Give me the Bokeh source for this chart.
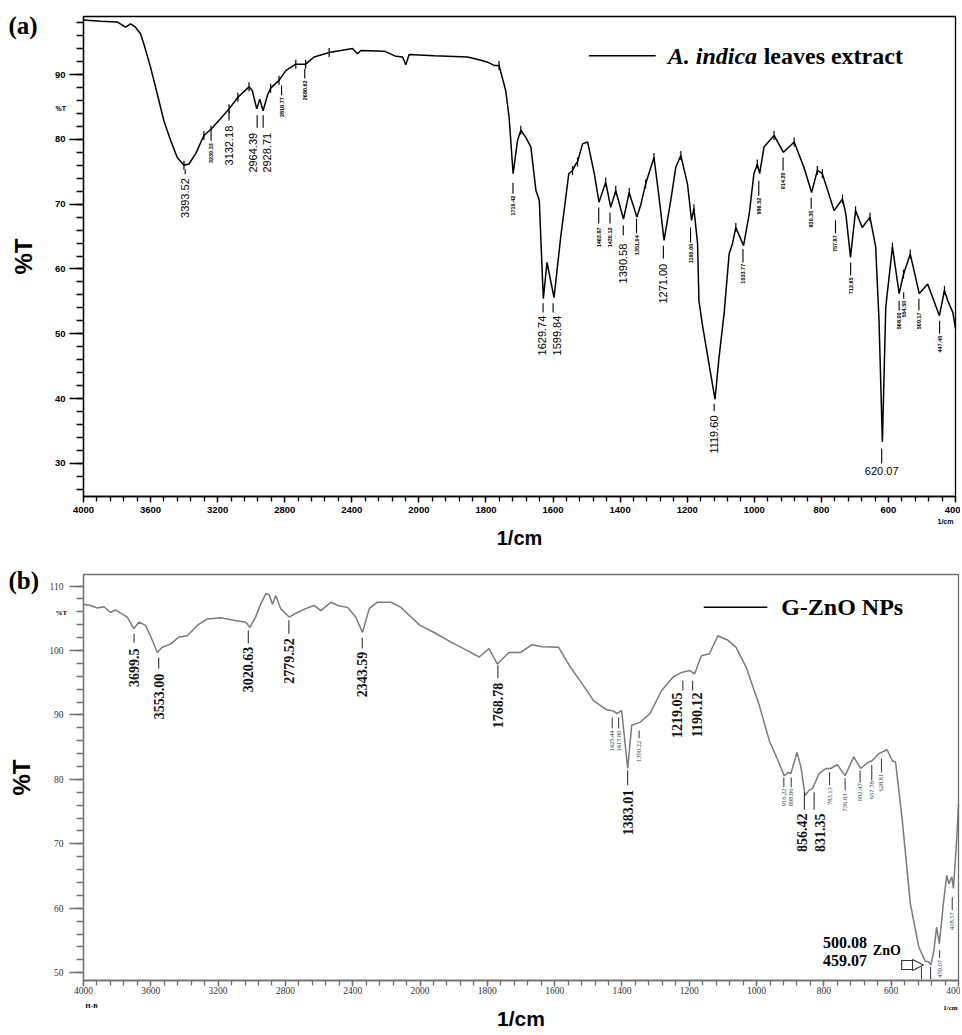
import numpy as np
from bokeh.plotting import figure
from bokeh.models import (Range1d, FixedTicker, CustomJSTickFormatter, Label,
                          ColumnDataSource, Arrow, NormalHead, BoxAnnotation)
from bokeh.layouts import column
from bokeh.embed import file_html
from bokeh.resources import INLINE
from bokeh.core.properties import value

# ---------------- (a) A. indica leaves extract ----------------
top_wn = [4000, 3898, 3797, 3749, 3719, 3690, 3660, 3640, 3600, 3560, 3521, 3480, 3441, 3401,
          3371, 3331, 3282, 3238, 3182, 3132, 3079, 3013, 2993, 2967, 2949, 2929, 2903, 2884,
          2834, 2794, 2734, 2675, 2625, 2535, 2396, 2366, 2346, 2207, 2137, 2097, 2078, 2058,
          1954, 1855, 1815, 1795, 1776, 1761, 1741, 1731, 1719, 1706, 1696, 1681, 1666, 1651,
          1641, 1629, 1618, 1597, 1577, 1567, 1553, 1542, 1532, 1527, 1512, 1497, 1477, 1463,
          1443, 1428, 1413, 1390, 1373, 1350, 1338, 1324, 1299, 1284, 1269, 1249, 1234, 1219,
          1199, 1187, 1180, 1169, 1165, 1155, 1130, 1117, 1105, 1090, 1075, 1065, 1055, 1032,
          1015, 1001, 991, 984, 971, 941, 913, 881, 852, 829, 812, 797, 762, 737, 727, 713,
          698, 678, 655, 638, 628, 618, 608, 588, 568, 555, 535, 508, 483, 448, 433, 423, 408, 400]
top_T = [98.4, 98.2, 98.1, 97.3, 97.8, 97.3, 96.3, 94.7, 91.1, 87.0, 82.9, 79.8, 77.2, 76.0,
         76.2, 77.8, 80.6, 81.6, 83.2, 84.7, 86.5, 88.1, 87.5, 84.7, 86.2, 84.4, 86.8, 87.9,
         89.1, 90.6, 91.6, 91.6, 92.7, 93.4, 94.0, 93.2, 93.7, 93.6, 92.8, 92.7, 91.5, 93.1,
         92.9, 92.7, 92.2, 91.9, 91.4, 91.4, 87.5, 83.4, 74.7, 79.8, 81.4, 80.3, 78.8, 72.1,
         70.6, 55.4, 61.0, 55.6, 65.0, 69.0, 74.7, 75.2, 76.2, 76.5, 79.3, 79.6, 74.7, 70.3,
         73.4, 69.5, 72.1, 67.7, 71.8, 68.0, 70.0, 73.1, 77.2, 71.1, 64.4, 70.6, 75.7, 77.5,
         73.1, 67.5, 69.3, 63.9, 55.1, 51.5, 43.8, 39.9, 46.4, 53.1, 62.3, 63.9, 66.4, 63.6,
         68.5, 74.7, 76.2, 74.7, 78.8, 80.6, 78.0, 79.6, 75.7, 71.8, 75.2, 74.7, 69.0, 70.8, 68.5, 61.8,
         69.0, 66.4, 68.0, 63.4, 52.0, 33.3, 54.1, 63.4, 56.2, 59.2, 62.3, 56.2, 57.7, 52.8, 56.7, 55.1, 53.3, 50.8]

top_cross_wn = [3401, 3282, 3132, 3079, 3013, 2884, 2834, 2734, 2675, 2535, 1761, 1696, 1542,
                1527, 1443, 1413, 1373, 1324, 1299, 1219, 1180, 1055, 991, 941, 881, 812, 797,
                737, 698, 655, 588, 555, 535, 433]
top_cross_T = [76.0, 80.6, 84.7, 86.5, 88.1, 87.9, 89.1, 91.6, 91.6, 93.4, 91.4, 81.4, 75.2,
               76.5, 73.4, 72.1, 71.8, 73.1, 77.2, 77.5, 69.3, 66.4, 76.2, 80.6, 79.6, 75.2, 74.7,
               70.8, 69.0, 68.0, 63.4, 59.2, 62.3, 56.7]

top_big_text = ["3393.52", "3132.18", "2964.39", "2928.71", "1629.74", "1599.84", "1390.58",
                "1271.00", "1119.60"]
top_big_x = [3393.52, 3132.18, 2964.39, 2928.71, 1629.74, 1599.84, 1390.58, 1271.00, 1119.60]
top_big_tx = [3393.52, 3132.18, 2988, 2906, 1633, 1589, 1390.58, 1271.00, 1119.60]
top_big_l0 = [75.4, 84.4, 83.7, 83.7, 54.7, 54.7, 66.7, 63.6, 39.2]
top_big_l1 = [74.6, 82.9, 81.8, 81.8, 53.3, 53.3, 65.2, 61.6, 38.1]
top_big_y = [74.0, 82.1, 81.0, 81.0, 52.8, 52.8, 63.9, 60.8, 37.4]

top_small_text = ["3239.33", "2818.77", "2680.62", "1719.42", "1463.87", "1430.12", "1351.04",
                  "1190.00", "1033.77", "986.52", "914.20", "830.30", "757.87", "712.65",
                  "568.00", "554.50", "509.17", "447.45"]
top_small_x = [3239.33, 2818.77, 2680.62, 1719.42, 1463.87, 1430.12, 1351.04, 1190.00, 1033.77,
               986.52, 914.20, 830.30, 757.87, 712.65, 568.00, 554.50, 509.17, 447.45]
top_small_l0 = [82.1, 88.3, 90.9, 73.3, 69.5, 68.7, 67.8, 66.4, 63.1, 73.6, 77.2, 71.0, 67.5,
                61.0, 55.1, 56.4, 55.4, 52.0]
top_small_l1 = [79.8, 86.8, 89.4, 71.6, 67.0, 67.0, 65.5, 64.1, 61.0, 71.3, 75.2, 69.3, 65.5,
                59.0, 53.6, 55.4, 53.6, 50.0]
top_small_y = [79.4, 86.5, 89.1, 71.3, 66.4, 66.4, 65.2, 63.9, 60.8, 71.0, 74.9, 69.0, 65.2,
               58.7, 53.3, 55.1, 53.3, 49.7]

# ---------------- (b) G-ZnO NPs ----------------
bot_wn = [4000, 3958, 3918, 3879, 3839, 3810, 3740, 3701, 3671, 3631, 3591, 3562, 3532, 3483,
          3433, 3383, 3324, 3264, 3185, 3106, 3036, 3011, 2977, 2947, 2917, 2897, 2877, 2857,
          2828, 2778, 2729, 2680, 2630, 2590, 2530, 2490, 2431, 2382, 2342, 2302, 2253, 2173,
          2114, 2074, 2000, 1958, 1908, 1859, 1824, 1795, 1770, 1736, 1701, 1667, 1637, 1588,
          1553, 1524, 1484, 1445, 1425, 1415, 1401, 1383, 1371, 1346, 1317, 1282, 1248, 1223,
          1199, 1184, 1164, 1140, 1115, 1085, 1061, 1031, 992, 962, 932, 918, 905, 898, 880,
          868, 856, 844, 834, 814, 794, 780, 760, 737, 711, 691, 667, 657, 637, 612, 597, 587,
          567, 543, 518, 499, 489, 482, 473, 465, 457, 445, 435, 428, 420, 415, 405, 400]
bot_T = [107.2, 107.0, 106.6, 106.8, 105.9, 106.3, 105.2, 103.4, 104.4, 103.9, 101.6, 99.7,
         100.5, 101.0, 102.1, 102.3, 103.9, 104.9, 105.1, 104.7, 104.4, 103.6, 105.2, 107.2,
         108.8, 108.7, 107.2, 108.5, 106.5, 105.2, 105.9, 106.5, 107.0, 106.2, 107.5, 107.0,
         106.7, 105.2, 102.8, 106.5, 107.5, 107.5, 106.7, 105.7, 103.9, 102.8, 101.3, 100.0,
         99.0, 100.3, 97.9, 99.7, 99.7, 100.9, 100.6, 100.5, 97.4, 95.3, 92.2, 90.8, 90.6,
         90.2, 90.7, 81.7, 88.4, 88.9, 90.2, 93.8, 95.9, 96.6, 96.9, 96.4, 99.2, 99.5, 102.3,
         101.6, 100.5, 97.4, 91.5, 86.0, 82.4, 80.6, 81.1, 80.9, 84.2, 81.9, 77.5, 78.3, 78.6,
         80.9, 81.7, 81.7, 82.3, 80.6, 83.5, 81.7, 82.7, 82.9, 84.0, 84.6, 82.9, 82.7, 73.6,
         60.7, 54.0, 51.8, 51.7, 51.2, 53.5, 57.1, 54.5, 60.7, 65.1, 63.8, 64.9, 63.1, 71.0, 76.2]

bot_big_text = ["3699.5", "3553.00", "3020.63", "2779.52", "2343.59", "1768.78", "1383.01",
                "1219.05", "1190.12", "856.42", "831.35"]
bot_big_x = [3699.5, 3553.00, 3020.63, 2779.52, 2343.59, 1768.78, 1383.01, 1219.05, 1190.12,
             858.0, 829.0]
bot_big_tx = [3699.5, 3553.00, 3020.63, 2779.52, 2343.59, 1768.78, 1383.01, 1237, 1178,
              864, 811]
bot_big_l0 = [102.6, 98.9, 103.1, 104.7, 102.0, 97.7, 81.4, 95.3, 95.3, 78.0, 78.0]
bot_big_l1 = [101.2, 97.2, 101.1, 102.6, 100.3, 95.7, 79.1, 93.8, 93.8, 75.3, 75.3]
bot_big_y = [100.3, 96.4, 100.6, 101.9, 99.8, 95.0, 78.4, 93.5, 93.5, 74.7, 74.7]

bot_small_text = ["1425.44", "1415.80", "1390.22", "916.22", "898.86", "783.13", "736.83",
                  "692.47", "657.78", "628.81", "459.07", "418.57"]
bot_small_x = [1429, 1410, 1349, 919, 897, 783.13, 736.83, 692.47, 657.78, 628.81, 456, 418.57]
bot_small_l0 = [89.6, 89.6, 87.6, 80.3, 80.3, 81.1, 80.2, 81.4, 82.2, 83.3, 53.5, 61.7]
bot_small_l1 = [87.9, 87.9, 86.4, 78.8, 78.8, 79.1, 78.3, 79.5, 79.8, 81.1, 52.3, 59.7]
bot_small_y = [87.6, 87.6, 86.0, 78.6, 78.6, 78.8, 77.8, 79.4, 79.7, 80.9, 52.0, 59.4]

zno_text = ["500.08", "459.07"]
zno_y = [54.7, 51.9]

W = 960


def axis_pos(wn):
    """Map wavenumber to the instrument's split axis (4000-2000 drawn at half scale)."""
    a = np.asarray(wn, dtype=float)
    return np.where(a > 2000, 2000 + (a - 2000) / 2.0, a)


def make_fig(height, box, t_lo, t_hi, axis_color, tick_font, tick_style, tick_color,
             y_major, y_minor, ylabel_standoff, xlabel_size, xlabel_standoff,
             ytick_standoff, xtick_standoff):
    # box = (left, right, top, bottom) of the data box in canvas pixels
    bl, br, bt, bb = box
    u_hi, u_lo = 3000.0, 400.0
    upx = (u_hi - u_lo) / (br - bl)
    tpx = (t_hi - t_lo) / (bb - bt)
    xr = Range1d(u_hi + bl * upx, u_lo - (W - br) * upx)
    yr = Range1d(t_lo - (height - bb) * tpx, t_hi + bt * tpx)
    p = figure(width=W, height=height, x_range=xr, y_range=yr,
               output_backend="svg", toolbar_location=None,
               min_border=0, min_border_left=0, min_border_right=0,
               min_border_top=0, min_border_bottom=0)
    p.xgrid.visible = False
    p.ygrid.visible = False
    p.background_fill_color = "white"
    p.border_fill_color = "white"
    p.outline_line_color = None

    xa = p.xaxis[0]
    xa.fixed_location = t_lo
    xa.bounds = (u_lo, u_hi)
    xa.ticker = FixedTicker(ticks=list(range(400, 3001, 200)),
                            minor_ticks=list(range(400, 3001, 40)))
    xa.formatter = CustomJSTickFormatter(code="""
        const v = tick > 2000 ? 2000 + (tick - 2000) * 2 : tick;
        return String(Math.round(v));
    """)
    ya = p.yaxis[0]
    ya.fixed_location = u_hi
    ya.bounds = (t_lo, t_hi)
    ya.ticker = FixedTicker(ticks=y_major, minor_ticks=y_minor)
    for ax in (xa, ya):
        ax.axis_line_color = axis_color
        ax.axis_line_width = 1.3
        ax.major_tick_line_color = axis_color
        ax.minor_tick_line_color = axis_color
        ax.major_tick_line_width = 1.3
        ax.minor_tick_line_width = 1.3
        ax.major_tick_in = 0
        ax.minor_tick_in = 0
        ax.major_label_text_font = tick_font
        ax.major_label_text_font_style = tick_style
        ax.major_label_text_color = tick_color
        ax.major_label_text_font_size = "9.5px"
        ax.axis_label_text_font = "Liberation Sans"
        ax.axis_label_text_font_style = "bold"
        ax.axis_label_text_color = "black"
    xa.major_tick_out = 6
    xa.minor_tick_out = 5
    xa.major_label_standoff = xtick_standoff
    ya.major_tick_out = 14
    ya.minor_tick_out = 7
    ya.major_label_standoff = ytick_standoff
    xa.axis_label = "1/cm"
    xa.axis_label_text_font_size = xlabel_size
    xa.axis_label_standoff = xlabel_standoff
    ya.axis_label = "%T"
    ya.axis_label_text_font_size = "24px"
    ya.axis_label_standoff = ylabel_standoff

    p.add_layout(BoxAnnotation(left=u_lo, right=u_hi, bottom=t_lo, top=t_hi,
                               fill_color=None, fill_alpha=0, line_color=axis_color,
                               line_width=1.3, line_alpha=1.0))
    return p


def add_labels(p, xs, txs, texts, l0, l1, ytop, font, size, style, color, line_color):
    src = ColumnDataSource(dict(x=axis_pos(xs), tx=axis_pos(txs), l0=l0, l1=l1, y=ytop,
                                text=texts))
    p.segment(x0="x", y0="l0", x1="x", y1="l1", source=src, line_color=line_color, line_width=1.1)
    p.text(x="tx", y="y", text="text", source=src, angle=np.pi / 2, text_align="right",
           text_baseline="middle", text_font=value(font), text_font_size=value(size),
           text_font_style=style, text_color=color)


def lab(p, x, y, text, font, size, style="bold", align="left", xo=0, yo=0, color="black"):
    p.add_layout(Label(x=x, y=y, x_offset=xo, y_offset=yo, text=text, text_font=font,
                       text_font_style=style, text_font_size=size, text_color=color,
                       text_align=align, text_baseline="middle"))


# ---------------- top figure ----------------
T1_LO, T1_HI = 24.9, 98.95
p1 = make_fig(550, (83, 955, 16, 496), T1_LO, T1_HI, "black", "Liberation Sans", "bold", "black",
              [30, 40, 50, 60, 70, 80, 90], list(range(26, 99, 2)), 15, "20px", 11, 4, 4)
p1.line(axis_pos(top_wn), top_T, line_color="black", line_width=1.5)
p1.scatter(axis_pos(top_cross_wn), top_cross_T, marker="dash", angle=np.pi / 2, size=9,
           line_color="black", line_width=1.2)
add_labels(p1, top_big_x, top_big_tx, top_big_text, top_big_l0, top_big_l1, top_big_y,
           "Liberation Sans", "11px", "normal", "black", "black")
add_labels(p1, top_small_x, top_small_x, top_small_text, top_small_l0, top_small_l1, top_small_y,
           "Liberation Sans", "5.5px", "bold", "black", "black")
p1.segment(x0=axis_pos([620.07]), y0=[32.3], x1=axis_pos([620.07]), y1=[30.0],
           line_color="black", line_width=1.1)
lab(p1, float(axis_pos(620.07)), 28.9, "620.07", "Liberation Sans", "11px", "normal", "center")
# legend
p1.segment(x0=[1493], y0=[92.9], x1=[1294], y1=[92.9], line_color="black", line_width=1.5)
lab(p1, 1258, 92.9, "A. indica", "Liberation Serif", "24px", "bold italic")
lab(p1, 972, 92.9, "leaves extract", "Liberation Serif", "24px", "bold")
lab(p1, 3000, 97.56, "(a)", "Liberation Serif", "25px", "bold", xo=-75)
lab(p1, 3000, 84.8, "%T", "Liberation Sans", "7px", "bold", xo=-28)
lab(p1, 400, T1_LO, "1/cm", "Liberation Sans", "7px", "bold", "center", xo=-10, yo=-25)

# ---------------- bottom figure ----------------
GRAY = "#6f6f6f"
T2_LO, T2_HI = 48.8, 111.8
p2 = make_fig(484, (83, 958, 24, 430), T2_LO, T2_HI, GRAY, "Liberation Serif", "normal",
              "#333333", [50, 60, 70, 80, 90, 100, 110], list(range(50, 111, 2)), 11, "21px", 10,
              6, 0)
p2.line(axis_pos(bot_wn), bot_T, line_color="#7a7a7a", line_width=1.5)
add_labels(p2, bot_big_x, bot_big_tx, bot_big_text, bot_big_l0, bot_big_l1, bot_big_y,
           "Liberation Serif", "14px", "bold", "#111111", "#333333")
add_labels(p2, bot_small_x, bot_small_x, bot_small_text, bot_small_l0, bot_small_l1, bot_small_y,
           "Liberation Serif", "6.5px", "normal", "#333333", "#444444")
p2.segment(x0=axis_pos([510, 483]), y0=[50.9, 50.9], x1=axis_pos([510, 483]), y1=[49.0, 49.0],
           line_color="#444444", line_width=1.1)
for t, yy in zip(zno_text, zno_y):
    lab(p2, 737, yy, t, "Liberation Serif", "16px", "bold", "center")
lab(p2, 613, 53.4, "ZnO", "Liberation Serif", "14px", "bold", "center")
p2.quad(left=[569], right=[530], bottom=[50.5], top=[51.9], fill_color="white",
        line_color="#333333", line_width=1.1)
p2.add_layout(Arrow(end=NormalHead(size=11, fill_color="white", line_color="#333333",
                                   line_width=1.1),
                    x_start=540, y_start=51.2, x_end=504, y_end=51.2, line_alpha=0))
# legend
p2.segment(x0=[1157], y0=[106.7], x1=[968], y1=[106.7], line_color="black", line_width=1.5)
lab(p2, 927, 106.7, "G-ZnO NPs", "Liberation Serif", "24px", "bold")
lab(p2, 3000, 110.87, "(b)", "Liberation Serif", "25px", "bold", xo=-75)
lab(p2, 3000, 105.9, "%T", "Liberation Serif", "7px", "bold", xo=-28)
lab(p2, 400, T2_LO, "1/cm", "Liberation Serif", "7px", "bold", "center", xo=-8, yo=-27)
lab(p2, 3000, T2_LO, "H-B", "Liberation Serif", "7px", "bold", "center", xo=8, yo=-25)

layout = column(p1, p2, spacing=0)
open("out.html", "w").write(file_html(layout, INLINE))
